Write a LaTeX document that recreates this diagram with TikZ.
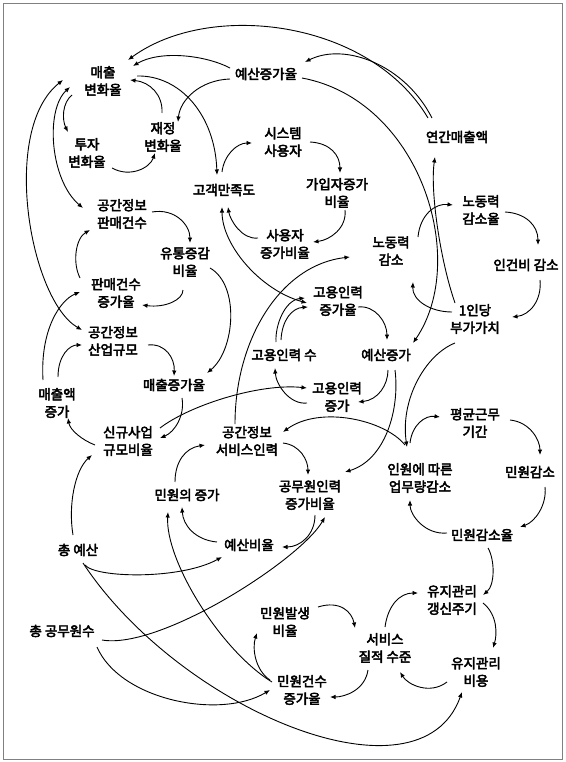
\documentclass[tikz,border=0pt]{standalone}
\usepackage{fontspec}
\newfontfamily\kr{Noto Sans CJK KR}[FakeBold=3.5]
\usetikzlibrary{arrows.meta}
\begin{document}
\begin{tikzpicture}[x=1pt,y=-1pt,
  lbl/.style={font=\kr\fontsize{13.5}{17.5}\selectfont, align=center, inner sep=1pt},
  arr/.style={line width=0.9pt, -{Latex[length=5.5pt,width=4.5pt]}},
  dbl/.style={line width=0.9pt, {Latex[length=5.5pt,width=4.5pt]}-{Latex[length=5.5pt,width=4.5pt]}}]
\useasboundingbox (0,0) rectangle (565,762);
\draw[gray, line width=0.8pt] (3,3) rectangle (562,759);
% nodes
\node[lbl] (n1) at (103,81) {매출\\변화율};
\node[lbl] (n2) at (266,74) {예산증가율};
\node[lbl] (n3) at (457,137) {연간매출액};
\node[lbl] (n4) at (87,153) {투자\\변화율};
\node[lbl] (n5) at (163,137) {재정\\변화율};
\node[lbl] (n6) at (283,142) {시스템\\사용자};
\node[lbl] (n7) at (337,193) {가입자증가\\비율};
\node[lbl] (n8) at (224,190) {고객만족도};
\node[lbl] (n9) at (285,244) {사용자\\증가비율};
\node[lbl] (n10) at (481,210) {노동력\\감소율};
\node[lbl] (n11) at (391,251) {노동력\\감소};
\node[lbl] (n12) at (526,265) {인건비 감소};
\node[lbl] (n13) at (122,214) {공간정보\\판매건수};
\node[lbl] (n14) at (185,262) {유통증감\\비율};
\node[lbl] (n15) at (116,293) {판매건수\\증가율};
\node[lbl] (n16) at (475,319) {1인당\\부가가치};
\node[lbl] (n17) at (338,301) {고용인력\\증가율};
\node[lbl] (n18) at (284,355) {고용인력 수};
\node[lbl] (n19) at (386,355) {예산증가};
\node[lbl] (n20) at (113,341) {공간정보\\산업규모};
\node[lbl] (n21) at (174,385) {매출증가율};
\node[lbl] (n22) at (57,403) {매출액\\증가};
\node[lbl] (n23) at (337,397) {고용인력\\증가};
\node[lbl] (n24) at (128,441) {신규사업\\규모비율};
\node[lbl] (n25) at (247,441) {공간정보\\서비스인력};
\node[lbl] (n26) at (475,423) {평균근무\\기간};
\node[lbl] (n27) at (420,478) {인원에 따른\\업무량감소};
\node[lbl] (n28) at (530,472) {민원감소};
\node[lbl] (n29) at (310,495) {공무원인력\\증가비율};
\node[lbl] (n30) at (187,495) {민원의 증가};
\node[lbl] (n31) at (78,550) {총 예산};
\node[lbl] (n32) at (249,545) {예산비율};
\node[lbl] (n33) at (482,535) {민원감소율};
\node[lbl] (n34) at (452,600) {유지관리\\갱신주기};
\node[lbl] (n35) at (62,631) {총 공무원수};
\node[lbl] (n36) at (285,622) {민원발생\\비율};
\node[lbl] (n37) at (385,648) {서비스\\질적 수준};
\node[lbl] (n38) at (476,672) {유지관리\\비용};
\node[lbl] (n39) at (302,690) {민원건수\\증가율};
% edges
\draw[arr] ([shift={(-29,-19)}]n3.center) .. controls (370,20) and (210,0) .. ([shift={(25,-21)}]n1.center);
\draw[arr] ([shift={(-25,-19)}]n3.center) .. controls (405,65) and (345,42) .. ([shift={(39,-12)}]n2.center);
\draw[arr] ([shift={(-36,-6)}]n2.center) .. controls (205,55) and (160,50) .. ([shift={(30,-15)}]n1.center);
\draw[arr] ([shift={(-36,5)}]n2.center) .. controls (200,80) and (180,100) .. ([shift={(15,-15)}]n5.center);
\draw[arr] ([shift={(-1,-24)}]n5.center) .. controls (163,95) and (150,82) .. ([shift={(27,-1)}]n1.center);
\draw[arr] ([shift={(25,15)}]n4.center) .. controls (130,178) and (150,168) .. ([shift={(-8,16)}]n5.center);
\draw[arr] ([shift={(-31,14)}]n1.center) .. controls (62,103) and (62,120) .. ([shift={(-19,-21)}]n4.center);
\draw[arr] ([shift={(34,-5)}]n1.center) .. controls (180,75) and (215,115) .. ([shift={(-7,-15)}]n8.center);
\draw[arr] ([shift={(-2,-18)}]n8.center) .. controls (224,155) and (237,143) .. ([shift={(-31,1)}]n6.center);
\draw[arr] ([shift={(27,0)}]n6.center) .. controls (330,143) and (340,155) .. ([shift={(3,-20)}]n7.center);
\draw[arr] ([shift={(8,17)}]n7.center) .. controls (347,228) and (330,240) .. ([shift={(28,-2)}]n9.center);
\draw[arr] ([shift={(-27,-6)}]n9.center) .. controls (242,240) and (230,220) .. ([shift={(4,17)}]n8.center);
\draw[dbl] ([shift={(-2,17)}]n8.center) .. controls (222,245) and (260,290) .. ([shift={(-31,2)}]n17.center);
\draw[arr] ([shift={(30,-2)}]n13.center) .. controls (175,208) and (190,225) .. ([shift={(5,-19)}]n14.center);
\draw[arr] ([shift={(-2,28)}]n14.center) .. controls (183,300) and (165,308) .. ([shift={(26,12)}]n15.center);
\draw[arr] ([shift={(-36,-15)}]n15.center) .. controls (72,262) and (76,238) .. ([shift={(-32,16)}]n13.center);
\draw[arr] ([shift={(25,6)}]n14.center) .. controls (240,285) and (235,350) .. ([shift={(33,-12)}]n21.center);
\draw[arr] ([shift={(35,4)}]n20.center) .. controls (165,343) and (175,358) .. ([shift={(0,-9)}]n21.center);
\draw[arr] ([shift={(8,13)}]n21.center) .. controls (185,415) and (175,432) .. ([shift={(32,-3)}]n24.center);
\draw[arr] ([shift={(-33,4)}]n24.center) .. controls (82,440) and (70,430) .. ([shift={(11,15)}]n22.center);
\draw[arr] ([shift={(-5,-15)}]n31.center) .. controls (68,505) and (75,470) .. ([shift={(-36,14)}]n24.center);
\draw[arr] ([shift={(32,-13)}]n24.center) .. controls (190,405) and (260,383) .. ([shift={(-30,-9)}]n23.center);
\draw[arr] ([shift={(-30,6)}]n23.center) .. controls (290,405) and (276,385) .. ([shift={(-9,13)}]n18.center);
\draw[arr] ([shift={(-8,-13)}]n18.center) .. controls (275,325) and (285,300) .. ([shift={(-33,-3)}]n17.center);
\draw[arr] ([shift={(-3,-15)}]n18.center) .. controls (282,320) and (292,308) .. ([shift={(-30,6)}]n17.center);
\draw[arr] ([shift={(20,6)}]n17.center) .. controls (375,305) and (387,322) .. ([shift={(1,-15)}]n19.center);
\draw[arr] ([shift={(2,15)}]n19.center) .. controls (388,385) and (378,400) .. ([shift={(21,5)}]n23.center);
\draw[arr] ([shift={(-20,-16)}]n16.center) .. controls (440,260) and (430,190) .. ([shift={(-22,20)}]n3.center);
\draw[arr] ([shift={(36,4)}]n2.center) .. controls (420,100) and (470,260) .. ([shift={(27,-12)}]n19.center);
\draw[arr] ([shift={(-12,-17)}]n25.center) .. controls (235,340) and (280,265) .. ([shift={(-41,6)}]n11.center);
\draw[arr] ([shift={(27,-14)}]n11.center) .. controls (420,215) and (435,203) .. ([shift={(-28,-5)}]n10.center);
\draw[arr] ([shift={(24,2)}]n10.center) .. controls (525,213) and (538,225) .. ([shift={(12,-20)}]n12.center);
\draw[arr] ([shift={(14,15)}]n12.center) .. controls (542,300) and (530,315) .. ([shift={(37,-2)}]n16.center);
\draw[arr] ([shift={(-23,-7)}]n16.center) .. controls (430,312) and (412,300) .. ([shift={(22,31)}]n11.center);
\draw[arr] ([shift={(-20,24)}]n16.center) .. controls (425,355) and (400,400) .. ([shift={(-13,-31)}]n27.center);
\draw[arr] ([shift={(9,15)}]n19.center) .. controls (400,410) and (385,460) .. ([shift={(35,-23)}]n29.center);
\draw[arr] ([shift={(-15,-33)}]n27.center) .. controls (385,420) and (320,405) .. ([shift={(36,-9)}]n25.center);
\draw[arr] ([shift={(-10,-35)}]n27.center) .. controls (412,425) and (425,415) .. ([shift={(-35,-6)}]n26.center);
\draw[arr] ([shift={(35,-3)}]n26.center) .. controls (530,422) and (540,440) .. ([shift={(10,-17)}]n28.center);
\draw[arr] ([shift={(15,15)}]n28.center) .. controls (547,505) and (535,522) .. ([shift={(38,-8)}]n33.center);
\draw[arr] ([shift={(-35,-2)}]n33.center) .. controls (425,535) and (410,515) .. ([shift={(-10,22)}]n27.center);
\draw[arr] ([shift={(6,13)}]n33.center) .. controls (495,560) and (495,585) .. ([shift={(31,-5)}]n34.center);
\draw[arr] ([shift={(36,2)}]n25.center) .. controls (300,445) and (308,460) .. ([shift={(-2,-20)}]n29.center);
\draw[arr] ([shift={(-12,-13)}]n30.center) .. controls (175,462) and (185,448) .. ([shift={(-42,4)}]n25.center);
\draw[arr] ([shift={(-32,-3)}]n32.center) .. controls (195,540) and (183,525) .. ([shift={(-5,12)}]n30.center);
\draw[arr] ([shift={(5,20)}]n29.center) .. controls (315,535) and (300,547) .. ([shift={(33,2)}]n32.center);
\draw[arr] ([shift={(40,9)}]n35.center) .. controls (160,650) and (300,560) .. ([shift={(15,22)}]n29.center);
\draw[arr] ([shift={(7,15)}]n31.center) .. controls (95,578) and (180,580) .. ([shift={(-27,12)}]n32.center);
\draw[arr] ([shift={(5,13)}]n31.center) .. controls (180,710) and (420,810) .. ([shift={(-14,20)}]n38.center);
\draw[arr] ([shift={(-30,-8)}]n39.center) .. controls (220,650) and (165,560) .. ([shift={(-19,17)}]n30.center);
\draw[arr] ([shift={(35,16)}]n35.center) .. controls (120,700) and (220,720) .. ([shift={(-32,0)}]n39.center);
\draw[arr] ([shift={(-32,-10)}]n39.center) .. controls (255,670) and (252,648) .. ([shift={(-28,11)}]n36.center);
\draw[arr] ([shift={(33,-15)}]n36.center) .. controls (340,600) and (352,612) .. ([shift={(-30,-20)}]n37.center);
\draw[arr] ([shift={(0,-21)}]n37.center) .. controls (388,605) and (400,593) .. ([shift={(-34,-7)}]n34.center);
\draw[arr] ([shift={(31,3)}]n34.center) .. controls (498,615) and (497,635) .. ([shift={(17,-24)}]n38.center);
\draw[arr] ([shift={(-29,10)}]n38.center) .. controls (430,695) and (408,685) .. ([shift={(15,24)}]n37.center);
\draw[arr] ([shift={(-17,22)}]n37.center) .. controls (365,690) and (345,697) .. ([shift={(28,7)}]n39.center);
\draw[arr] ([shift={(-14,-23)}]n22.center) .. controls (40,330) and (60,300) .. ([shift={(-36,-1)}]n15.center);
\draw[arr] ([shift={(1,-26)}]n22.center) .. controls (58,355) and (70,345) .. ([shift={(-31,4)}]n20.center);
\draw[dbl] ([shift={(-40,-1)}]n1.center) .. controls (0,130) and (30,300) .. ([shift={(-31,-11)}]n20.center);
\draw[dbl] ([shift={(-33,6)}]n1.center) .. controls (45,110) and (50,180) .. ([shift={(-39,-6)}]n13.center);
\end{tikzpicture}
\end{document}
